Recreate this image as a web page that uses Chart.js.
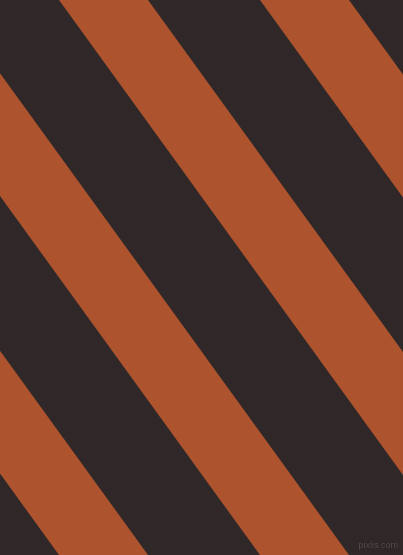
<!DOCTYPE html>
<html>
<head>
<meta charset="utf-8">
<script src="https://cdn.jsdelivr.net/npm/chart.js@4"></script>
<style>
  html, body { margin: 0; padding: 0; background: #302828; overflow: hidden; }
  #wrap { position: relative; width: 403px; height: 555px; }
  #mark {
    position: absolute; right: 5px; bottom: 5px;
    font: 9px "Liberation Sans", sans-serif; line-height: 9px; color: #5a5453;
    text-shadow: 0 0 1px #161212;
  }
</style>
</head>
<body>
<div id="wrap">
  <canvas id="stripes" width="403" height="555"></canvas>
  <span id="mark">pixlis.com</span>
</div>
<script>
// orange stripe edges, read where they cross the top (y=0) and bottom (y=555)
const edgeY = [0, 555];
const leftTop = [-343, -142, 59, 260];
const rightTop = [-254, -53, 148, 349];
const leftBottom = [59, 260, 461, 662];
const rightBottom = [148, 349, 550, 751];

const orange = '#ad532e';
const dark = '#302828';

const datasets = [];
leftTop.forEach((x0, i) => {
    datasets.push({
        data: [{ x: x0, y: edgeY[0] }, { x: leftBottom[i], y: edgeY[1] }],
        borderWidth: 0,
        pointRadius: 0,
        fill: false
    });
    datasets.push({
        data: [{ x: rightTop[i], y: edgeY[0] }, { x: rightBottom[i], y: edgeY[1] }],
        borderWidth: 0,
        pointRadius: 0,
        backgroundColor: orange,
        fill: '-1'
    });
});

// paint the dark ground behind the chart area
const ground = {
    id: 'ground',
    beforeDraw(chart) {
        const ctx = chart.ctx;
        ctx.save();
        ctx.fillStyle = dark;
        ctx.fillRect(0, 0, chart.width, chart.height);
        ctx.restore();
    }
};

new Chart(document.getElementById('stripes'), {
    type: 'line',
    data: { datasets },
    options: {
        responsive: false,
        animation: false,
        indexAxis: 'y',
        layout: { padding: 0 },
        plugins: { legend: { display: false }, tooltip: { enabled: false } },
        scales: {
            x: { type: 'linear', min: 0, max: 403, display: false },
            y: { type: 'linear', min: 0, max: 555, reverse: true, display: false }
        }
    },
    plugins: [ground]
});
</script>
</body>
</html>
